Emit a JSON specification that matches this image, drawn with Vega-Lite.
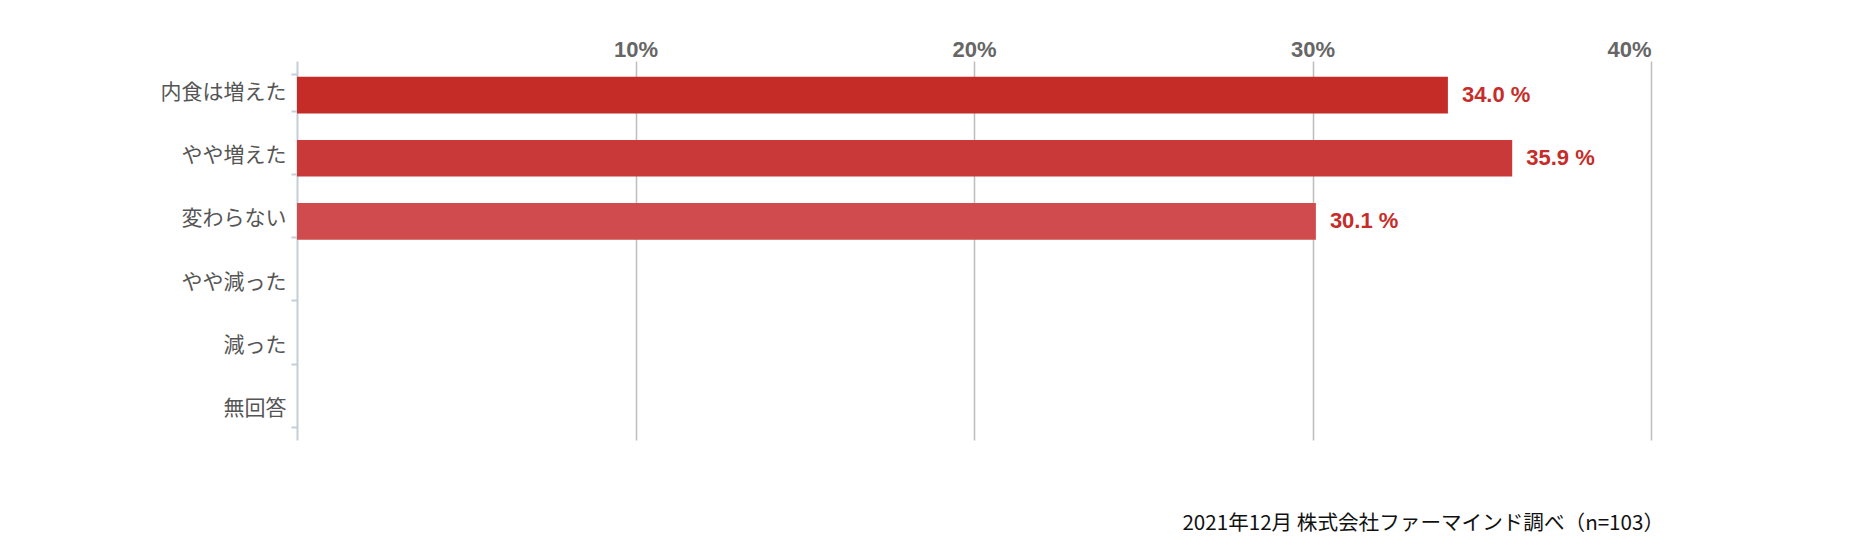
{
  "$schema": "https://vega.github.io/schema/vega-lite/v6.json",
  "autosize": "none",
  "width": 1354,
  "height": 379,
  "padding": {"left": 297, "top": 61, "right": 201, "bottom": 118},
  "background": "white",
  "config": {"view": {"stroke": null}},
  "title": {
    "text": "2021年12月 株式会社ファーマインド調べ（n=103）",
    "orient": "bottom",
    "anchor": "end",
    "offset": 74,
    "dx": 13,
    "font": "Noto Sans CJK JP",
    "fontSize": 20.6,
    "fontWeight": "normal",
    "color": "#111111"
  },
  "data": {
    "values": [
      {"cat": "内食は増えた", "pct": 34.0},
      {"cat": "やや増えた", "pct": 35.9},
      {"cat": "変わらない", "pct": 30.1},
      {"cat": "やや減った", "pct": null},
      {"cat": "減った", "pct": null},
      {"cat": "無回答", "pct": null}
    ]
  },
  "transform": [{"calculate": "format(datum.pct, '.1f') + ' %'", "as": "label"}],
  "encoding": {
    "y": {
      "field": "cat",
      "type": "nominal",
      "sort": null,
      "scale": {"domain": ["内食は増えた", "やや増えた", "変わらない", "やや減った", "減った", "無回答"], "paddingInner": 0.42, "paddingOuter": 0.21},
      "axis": {
        "title": null,
        "tickBand": "extent",
        "domainColor": "#c5ced8",
        "domainWidth": 2,
        "tickColor": "#c5ced8",
        "tickWidth": 2,
        "tickSize": 6,
        "labelFont": "Noto Sans CJK JP",
        "labelFontSize": 21,
        "labelColor": "#555555",
        "labelPadding": 5
      }
    },
    "x": {
      "field": "pct",
      "type": "quantitative",
      "scale": {"domain": [0, 40], "nice": false},
      "axis": {
        "orient": "top",
        "title": null,
        "values": [10, 20, 30, 40],
        "labelExpr": "datum.value + '%'",
        "domain": false,
        "ticks": false,
        "grid": true,
        "gridColor": "#bdbdbd",
        "gridWidth": 1.5,
        "labelFont": "Liberation Sans",
        "labelFontSize": 22,
        "labelFontWeight": "bold",
        "labelColor": "#666666",
        "labelPadding": 0
      }
    }
  },
  "layer": [
    {
      "mark": {"type": "bar", "yOffset": 2.5},
      "encoding": {
        "color": {
          "field": "cat",
          "type": "nominal",
          "scale": {"domain": ["内食は増えた", "やや増えた", "変わらない"], "range": ["#c52b27", "#ca393a", "#cf4b4d"]},
          "legend": null
        }
      }
    },
    {
      "mark": {"type": "text", "align": "left", "baseline": "middle", "dx": 14, "dy": 2, "font": "Liberation Sans", "fontSize": 22, "fontWeight": "bold", "color": "#c62d2a"},
      "encoding": {"text": {"field": "label"}}
    }
  ]
}
